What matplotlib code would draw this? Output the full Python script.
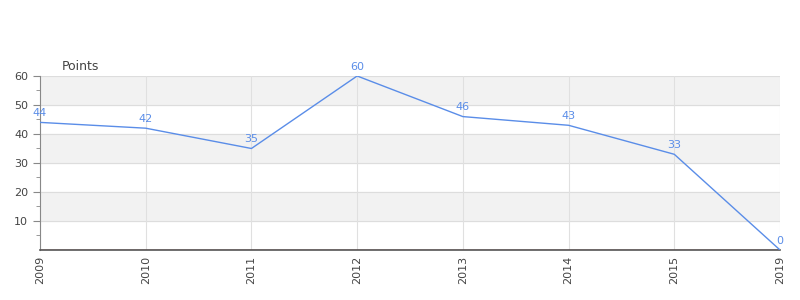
import matplotlib.pyplot as plt

years = ['2009', '2010', '2011', '2012', '2013', '2014', '2015', '2019']
points = [44, 42, 35, 60, 46, 43, 33, 0]

line_color = '#5a8de8'
text_color = '#444444'

fig = plt.figure(figsize=(8, 3), dpi=100)
ax = fig.add_axes([0.05, 0.1667, 0.925, 0.58])

x = list(range(len(years)))
ax.set_xlim(0, len(years) - 1)
ax.set_ylim(0, 60)

# alternating bands
for lo in range(10, 60, 20):
    ax.axhspan(lo, lo + 10, color='#f2f2f2', zorder=0)
for y in range(10, 61, 10):
    ax.axhline(y, color='#dddddd', lw=0.8, zorder=0.5)
for xi in x:
    ax.axvline(xi, color='#e0e0e0', lw=0.8, zorder=0.5)

ax.axhline(0.15, color='#cc0000', lw=1, zorder=1)
ax.plot(x, points, color=line_color, lw=1, zorder=3)

for xi, v in zip(x, points):
    ax.annotate(str(v), (xi, v), xytext=(0, 3), textcoords='offset points',
                ha='center', va='bottom', fontsize=8, color=line_color,
                annotation_clip=False)

ax.set_xticks(x)
ax.set_xticklabels(years, rotation=90, fontsize=8, color=text_color)
ax.set_yticks(range(10, 61, 10))
ax.set_yticks(range(5, 60, 10), minor=True)
ax.tick_params(axis='y', labelsize=8, colors=text_color, length=5, color='#888888')
ax.tick_params(axis='y', which='minor', length=3, color='#888888')
ax.tick_params(axis='x', length=0, pad=4)

for s in ['top', 'right']:
    ax.spines[s].set_visible(False)
ax.spines['left'].set_color('#888888')
ax.spines['bottom'].set_color('#555555')
ax.spines['bottom'].set_linewidth(1.2)

fig.text(62 / 800, 1 - 66 / 300, 'Points', fontsize=9, color=text_color, va='center')

fig.savefig('out.png', dpi=100)
